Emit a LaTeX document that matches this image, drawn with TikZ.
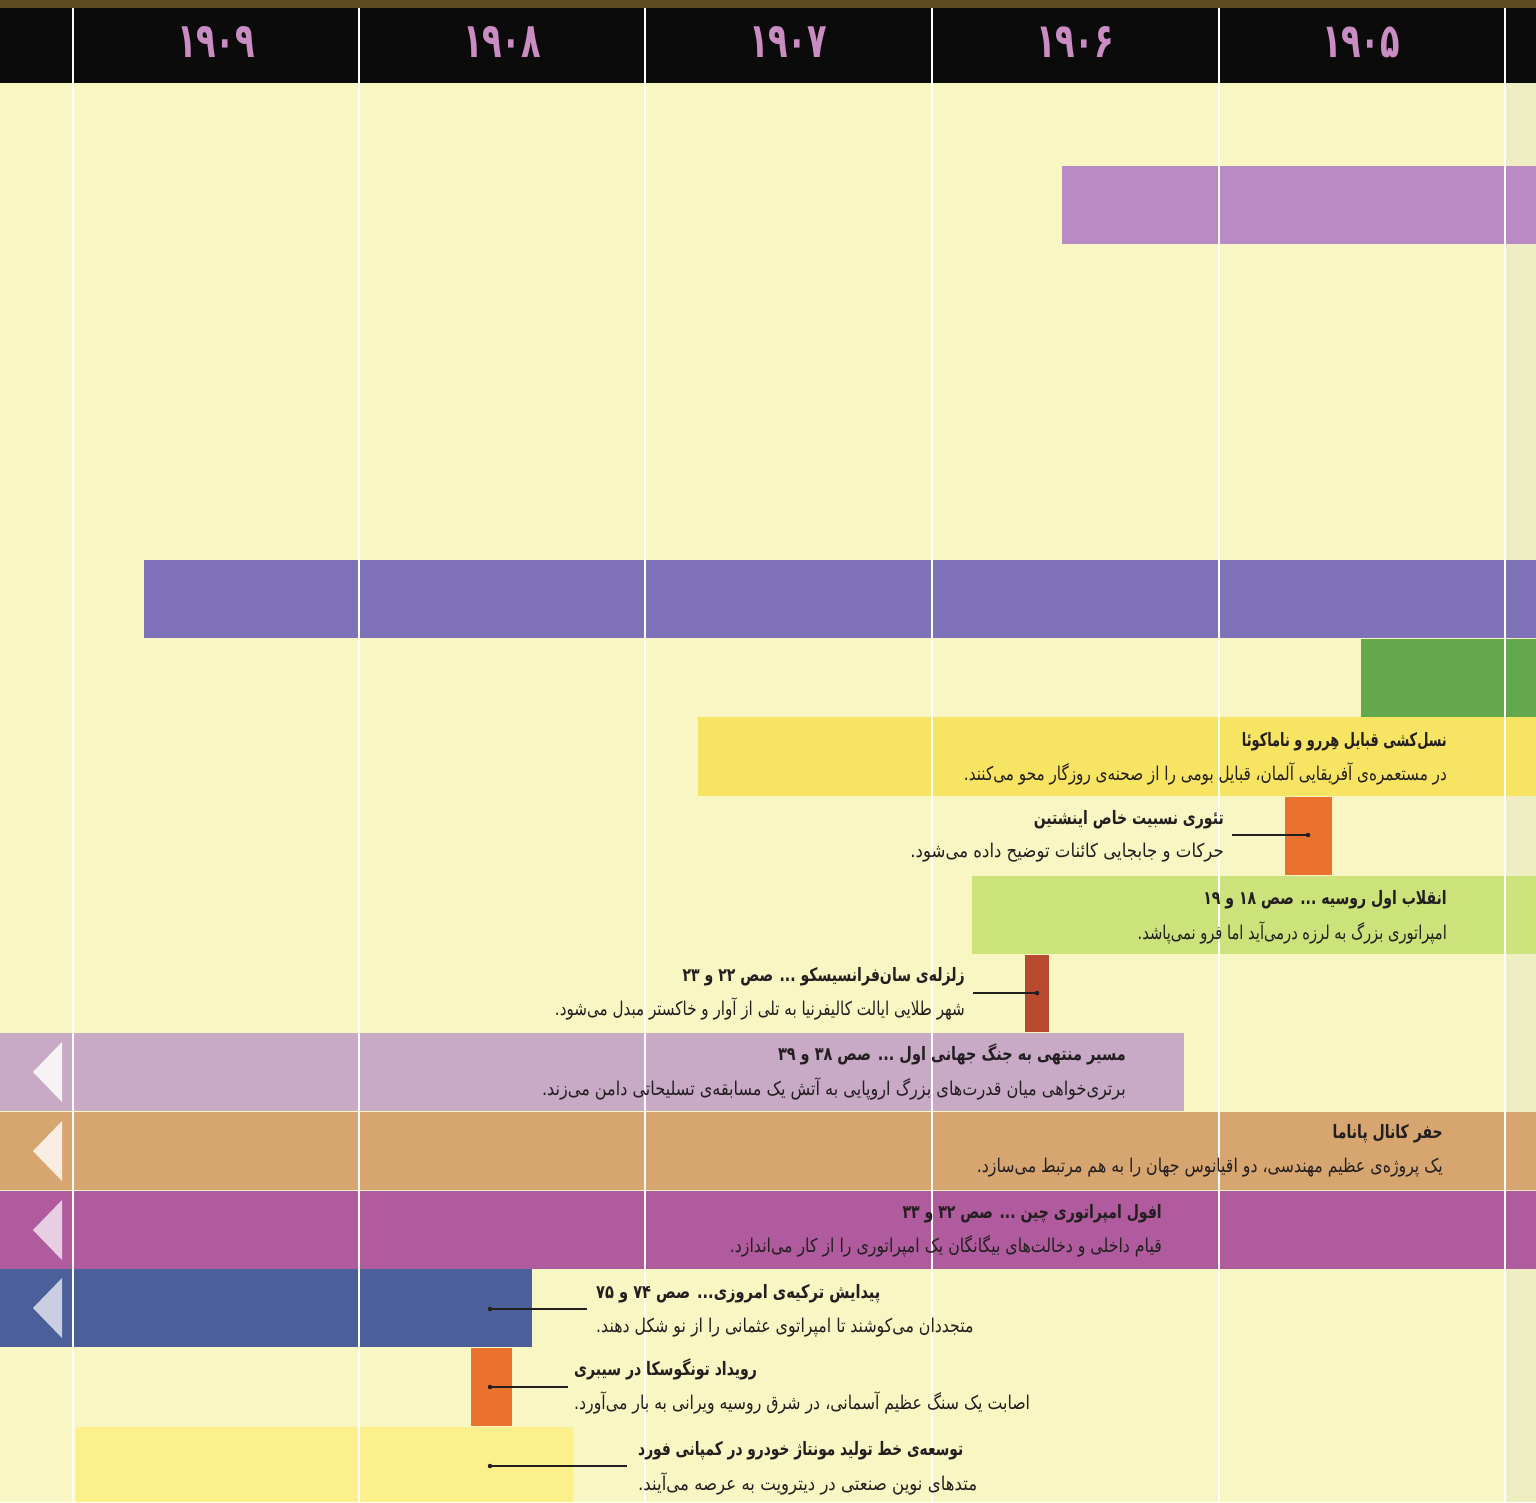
\documentclass[tikz,border=0pt]{standalone}
\usepackage{fontspec}
\TeXXeTstate=1
\newfontfamily\fa[Script=Arabic,FakeStretch=0.83]{DejaVu Sans}
\newfontfamily\fab[Script=Arabic,FakeStretch=0.76]{DejaVu Sans Bold}
\newfontfamily\yearfont[Script=Arabic]{DejaVu Sans Bold}
\definecolor{bg}{HTML}{F8F6C3}
\definecolor{gutter}{HTML}{EFEDC2}
\definecolor{topband}{HTML}{5E4B22}
\definecolor{header}{HTML}{0B0B0B}
\definecolor{yearcol}{HTML}{C98DC3}
\definecolor{lilac}{HTML}{B98AC4}
\definecolor{violet}{HTML}{7F72B8}
\definecolor{grn}{HTML}{63A84C}
\definecolor{yel}{HTML}{F8E463}
\definecolor{orng}{HTML}{E8722E}
\definecolor{lgrn}{HTML}{CCE27A}
\definecolor{dred}{HTML}{B84A30}
\definecolor{wwi}{HTML}{C8A9C6}
\definecolor{tan}{HTML}{D6A570}
\definecolor{mag}{HTML}{AF5B9D}
\definecolor{blu}{HTML}{4B5F9A}
\definecolor{fordy}{HTML}{FBF08C}
\definecolor{ink}{HTML}{231F20}
\begin{document}
\begin{tikzpicture}[x=1pt,y=-1pt,
  bar/.style={fill=#1,draw=none},
  yearlbl/.style={text=yearcol,inner sep=0pt,anchor=center},
  ttl/.style={text=ink,inner sep=0pt,font=\fab\fontsize{18.5}{20}\selectfont},
  txt/.style={text=ink,inner sep=0pt,font=\fa\fontsize{19}{20}\selectfont},
  link/.style={draw=ink,line width=1.1pt},
  dot/.style={fill=ink,circle,inner sep=0pt,minimum size=4.5pt},
  tri/.style={fill=#1,draw=none},
  vline/.style={draw=white,line width=2pt}]
\useasboundingbox (0,0) rectangle (1536,1502);
% background and header
\fill[bg] (0,0) rectangle (1536,1502);
\fill[gutter] (1506,83) rectangle (1536,1502);
\fill[topband] (0,0) rectangle (1536,8);
\fill[header] (0,8) rectangle (1536,83);
% bars
\fill[bar=lilac] (1062,166) rectangle (1536,244);
\fill[bar=violet] (144,560) rectangle (1536,638);
\fill[bar=grn] (1361,639) rectangle (1536,717);
\fill[bar=yel] (698,717) rectangle (1536,796);
\fill[bar=orng] (1285,797) rectangle (1332,875);
\fill[bar=lgrn] (972,876) rectangle (1536,954);
\fill[bar=dred] (1025,955) rectangle (1049,1032);
\fill[bar=wwi] (0,1033) rectangle (1184,1111);
\fill[bar=tan] (0,1112) rectangle (1536,1190);
\fill[bar=mag] (0,1191) rectangle (1536,1269);
\fill[bar=blu] (0,1269) rectangle (532,1347);
\fill[bar=orng] (471,1348) rectangle (512,1426);
\fill[bar=fordy] (76,1427) rectangle (573,1502);
% left triangles
\fill[tri={white!85!wwi}] (33,1072) -- (62,1042) -- (62,1102) -- cycle;
\fill[tri={white!80!tan}] (33,1151) -- (62,1121) -- (62,1181) -- cycle;
\fill[tri={white!70!mag}] (33,1230) -- (62,1200) -- (62,1260) -- cycle;
\fill[tri={white!70!blu}] (33,1308) -- (62,1278) -- (62,1338) -- cycle;
% year labels
\node[yearlbl] (y1909) at (216,42) {\resizebox*{78pt}{31pt}{\yearfont ۱۹۰۹}};
\node[yearlbl] (y1908) at (502,42) {\resizebox*{78pt}{31pt}{\yearfont ۱۹۰۸}};
\node[yearlbl] (y1907) at (788,42) {\resizebox*{78pt}{31pt}{\yearfont ۱۹۰۷}};
\node[yearlbl] (y1906) at (1075,42) {\resizebox*{78pt}{31pt}{\yearfont ۱۹۰۶}};
\node[yearlbl] (y1905) at (1361,42) {\resizebox*{78pt}{31pt}{\yearfont ۱۹۰۵}};
% connectors
\coordinate (einDot) at (1308,835);
\coordinate (einEnd) at (1232,835);
\coordinate (sfDot) at (1037,993);
\coordinate (sfEnd) at (973,993);
\coordinate (tuDot) at (490,1309);
\coordinate (tuEnd) at (587,1309);
\coordinate (tgDot) at (490,1387);
\coordinate (tgEnd) at (568,1387);
\coordinate (fdDot) at (490,1466);
\coordinate (fdEnd) at (627,1466);
\foreach \a/\b in {einDot/einEnd,sfDot/sfEnd,tuDot/tuEnd,tgDot/tgEnd,fdDot/fdEnd}{
  \draw[link] (\a) -- (\b);
  \node[dot] at (\a) {};
}
% vertical year lines
\foreach \x in {73,359,645,932,1219,1505}{
  \draw[vline] (\x,8) -- (\x,1502);
}
% texts: right aligned
\node[ttl,anchor=base east] (t1) at (1447,746) {\scalebox{0.92}[1]{\beginR نسل‌کشی قبایل هِررو و ناماکوئا\endR}};
\node[txt,anchor=base east] (b1) at (1447,780) {\scalebox{0.965}[1]{\beginR در مستعمره‌ی آفریقایی آلمان، قبایل بومی را از صحنه‌ی روزگار محو می‌کنند.\endR}};
\node[ttl,anchor=base east] (t2) at (1224,824) {\beginR تئوری نسبیت خاص اینشتین\endR};
\node[txt,anchor=base east] (b2) at (1224,857) {\scalebox{1.05}[1]{\beginR حرکات و جابجایی کائنات توضیح داده می‌شود.\endR}};
\node[ttl,anchor=base east] (t3) at (1447,904) {\beginR انقلاب اول روسیه ... صص ۱۸ و ۱۹\endR};
\node[txt,anchor=base east] (b3) at (1447,939) {\scalebox{0.93}[1]{\beginR امپراتوری بزرگ به لرزه درمی‌آید اما فرو نمی‌پاشد.\endR}};
\node[ttl,anchor=base east] (t4) at (965,981) {\beginR زلزله‌ی سان‌فرانسیسکو ... صص ۲۲ و ۲۳\endR};
\node[txt,anchor=base east] (b4) at (965,1015) {\scalebox{0.96}[1]{\beginR شهر طلایی ایالت کالیفرنیا به تلی از آوار و خاکستر مبدل می‌شود.\endR}};
\node[ttl,anchor=base east] (t5) at (1126,1060) {\scalebox{1.03}[1]{\beginR مسیر منتهی به جنگ جهانی اول ... صص ۳۸ و ۳۹\endR}};
\node[txt,anchor=base east] (b5) at (1126,1095) {\scalebox{1.02}[1]{\beginR برتری‌خواهی میان قدرت‌های بزرگ اروپایی به آتش یک مسابقه‌ی تسلیحاتی دامن می‌زند.\endR}};
\node[ttl,anchor=base east] (t6) at (1443,1138) {\beginR حفر کانال پاناما\endR};
\node[txt,anchor=base east] (b6) at (1443,1172) {\beginR یک پروژه‌ی عظیم مهندسی، دو اقیانوس جهان را به هم مرتبط می‌سازد.\endR};
\node[ttl,anchor=base east] (t7) at (1162,1218) {\beginR افول امپراتوری چین ... صص ۳۲ و ۳۳\endR};
\node[txt,anchor=base east] (b7) at (1162,1252) {\beginR قیام داخلی و دخالت‌های بیگانگان یک امپراتوری را از کار می‌اندازد.\endR};
% texts: left aligned
\node[ttl,anchor=base west] (t8) at (596,1298) {\scalebox{1.04}[1]{\beginR پیدایش ترکیه‌ی امروزی... صص ۷۴ و ۷۵\endR}};
\node[txt,anchor=base west] (b8) at (596,1332) {\beginR متجددان می‌کوشند تا امپراتوی عثمانی را از نو شکل دهند.\endR};
\node[ttl,anchor=base west] (t9) at (574,1375) {\beginR رویداد تونگوسکا در سیبری\endR};
\node[txt,anchor=base west] (b9) at (574,1409) {\beginR اصابت یک سنگ عظیم آسمانی، در شرق روسیه ویرانی به بار می‌آورد.\endR};
\node[ttl,anchor=base west] (t10) at (638,1455) {\scalebox{0.98}[1]{\beginR توسعه‌ی خط تولید مونتاژ خودرو در کمپانی فورد\endR}};
\node[txt,anchor=base west] (b10) at (638,1490) {\scalebox{1.05}[1]{\beginR متدهای نوین صنعتی در دیترویت به عرصه می‌آیند.\endR}};
\end{tikzpicture}
\end{document}
